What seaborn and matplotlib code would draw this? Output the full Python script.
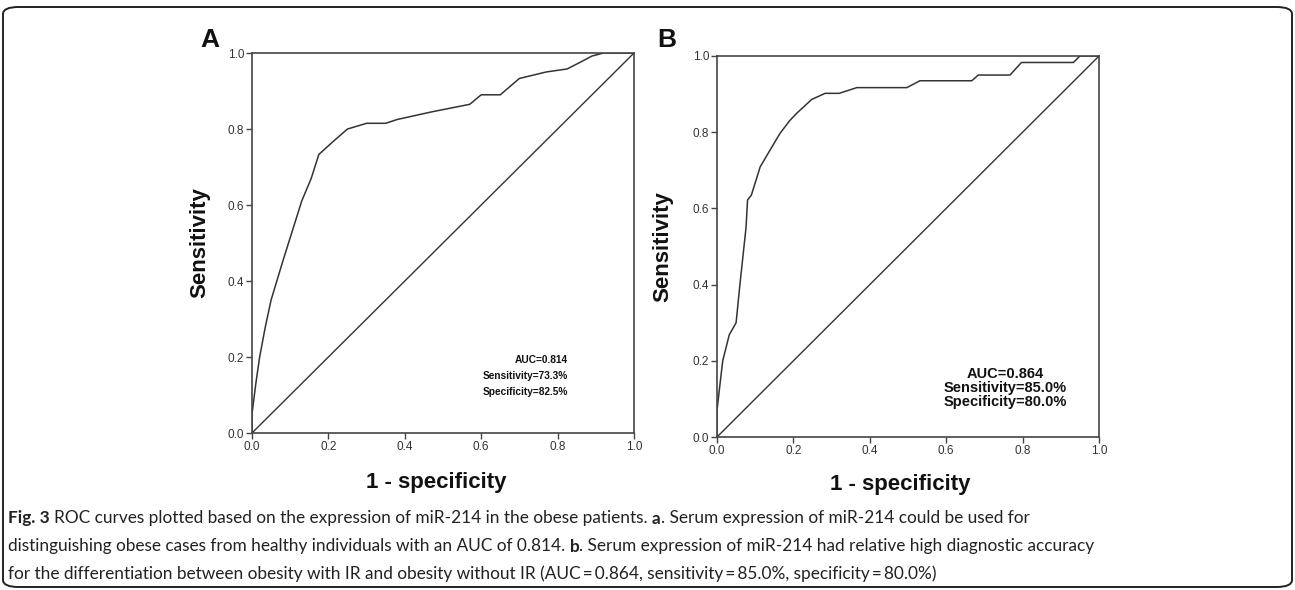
import numpy as np
import pandas as pd
import matplotlib
matplotlib.use("Agg")
import matplotlib.pyplot as plt
import seaborn as sns
from matplotlib.patches import FancyBboxPatch

# ROC curve points (1 - specificity, sensitivity)
fpr_a = [0.0, 0.0, 0.01, 0.02, 0.035, 0.05, 0.08, 0.105, 0.13, 0.155, 0.175, 0.21, 0.25, 0.30,
         0.35, 0.38, 0.47, 0.57, 0.60, 0.65, 0.70, 0.77, 0.825, 0.86, 0.89, 0.92, 1.0]
tpr_a = [0.0, 0.05, 0.13, 0.20, 0.28, 0.35, 0.45, 0.53, 0.61, 0.67, 0.733, 0.765, 0.80, 0.815,
         0.815, 0.825, 0.845, 0.865, 0.89, 0.89, 0.933, 0.95, 0.958, 0.976, 0.992, 1.0, 1.0]

fpr_b = [0.0, 0.0, 0.008, 0.015, 0.032, 0.05, 0.06, 0.076, 0.08, 0.09, 0.113, 0.14, 0.165, 0.19,
         0.209, 0.248, 0.283, 0.32, 0.366, 0.497, 0.531, 0.667, 0.684, 0.767, 0.797, 0.933, 0.95, 1.0]
tpr_b = [0.0, 0.07, 0.14, 0.20, 0.268, 0.30, 0.40, 0.55, 0.622, 0.635, 0.709, 0.755, 0.797, 0.83,
         0.85, 0.886, 0.902, 0.902, 0.917, 0.917, 0.935, 0.935, 0.95, 0.95, 0.983, 0.983, 1.0, 1.0]

ref_line = [0.0, 1.0]
ticks = [0.0, 0.2, 0.4, 0.6, 0.8, 1.0]
tick_labels = ["0.0", "0.2", "0.4", "0.6", "0.8", "1.0"]

stats_a = "AUC=0.814\nSensitivity=73.3%\nSpecificity=82.5%"
stats_b = "AUC=0.864\nSensitivity=85.0%\nSpecificity=80.0%"

caption = [
    [("Fig. 3", "bold"), (" ROC curves plotted based on the expression of miR-214 in the obese patients. ", "normal"),
     ("a", "bold"), (". Serum expression of miR-214 could be used for", "normal")],
    [("distinguishing obese cases from healthy individuals with an AUC of 0.814. ", "normal"), ("b", "bold"),
     (". Serum expression of miR-214 had relative high diagnostic accuracy", "normal")],
    [("for the differentiation between obesity with IR and obesity without IR (AUC\u2009=\u20090.864, "
      "sensitivity\u2009=\u200985.0%, specificity\u2009=\u200980.0%)", "normal")],
]

sns.set_style("ticks")
plt.rcParams["font.family"] = ["Liberation Sans", "DejaVu Sans"]

W, H = 1295, 590
fig = plt.figure(figsize=(W / 100, H / 100), dpi=100)

# outer rounded frame
frame = FancyBboxPatch((3 / W, 3 / H), 1289 / W, 580 / H,
                       boxstyle="round,pad=0,rounding_size=0.012",
                       transform=fig.transFigure, fill=False, edgecolor="#222222", linewidth=1.4)
fig.patches.append(frame)

panels = [
    dict(rect=[252 / W, 1 - 433 / H, 382 / W, 380 / H], fpr=fpr_a, tpr=tpr_a, letter="A",
         letter_x=200, stats=stats_a, sx=0.827, sy=0.095, ha="right", fs=7.3, ls=1.75,
         ylab=-0.11, xlab=(0.482, -0.103)),
    dict(rect=[717 / W, 1 - 437 / H, 382 / W, 381 / H], fpr=fpr_b, tpr=tpr_b, letter="B",
         letter_x=657, stats=stats_b, sx=0.754, sy=0.074, ha="center", fs=10.5, ls=1.0,
         ylab=-0.113, xlab=(0.479, -0.097)),
]

for p in panels:
    ax = fig.add_axes(p["rect"])
    df = pd.DataFrame({"fpr": p["fpr"], "tpr": p["tpr"]})
    sns.lineplot(data=df, x="fpr", y="tpr", ax=ax, sort=False, estimator=None,
                 color="#333333", linewidth=1.1)
    sns.lineplot(x=ref_line, y=ref_line, ax=ax, sort=False, estimator=None,
                 color="#333333", linewidth=1.0)
    ax.set_xlim(0, 1)
    ax.set_ylim(0, 1)
    ax.set_xticks(ticks)
    ax.set_xticklabels(tick_labels)
    ax.set_yticks(ticks)
    ax.set_yticklabels(tick_labels)
    ax.tick_params(direction="out", length=4, width=1, colors="#444444", labelsize=8.5,
                   labelcolor="#333333", pad=1.5)
    for s in ax.spines.values():
        s.set_visible(True)
        s.set_color("#444444")
        s.set_linewidth(1.2)
    ax.set_xlabel("1 - specificity", fontsize=16, fontweight="bold", color="#111111")
    ax.set_ylabel("Sensitivity", fontsize=16, fontweight="bold", color="#111111")
    ax.yaxis.set_label_coords(p["ylab"], 0.5)
    ax.xaxis.set_label_coords(*p["xlab"])
    ax.text(p["sx"], p["sy"], p["stats"], transform=ax.transAxes, ha=p["ha"], va="bottom",
            fontsize=p["fs"], fontweight="bold", color="#111111", linespacing=p["ls"],
            multialignment=p["ha"])
    fig.text(p["letter_x"] / W, 1 - 47 / H, p["letter"], fontsize=19, fontweight="bold",
             ha="left", va="baseline", color="#111111")

# caption, drawn run by run so that the bold parts sit inline
fig.canvas.draw()
renderer = fig.canvas.get_renderer()
cap_font = ["Lato", "DejaVu Sans"]


def width_of(s, weight, size):
    t = fig.text(0, 0, s, fontsize=size, fontweight=weight, family=cap_font)
    w = t.get_window_extent(renderer).width
    t.remove()
    return w


def run_width(runs, size, sp):
    total = 0
    for s, wgt in runs:
        lead = len(s) - len(s.lstrip(" "))
        trail = len(s) - len(s.rstrip(" "))
        total += width_of(s.strip(" "), wgt, size) + (lead + trail) * sp
    return total


base = 12
sp_base = width_of("a a", "normal", base) - width_of("aa", "normal", base)
cap_size = base * 1080 / run_width(caption[1], base, sp_base)
space_w = width_of("a a", "normal", cap_size) - width_of("aa", "normal", cap_size)

line_y = [517, 545, 572]
for runs, yy in zip(caption, line_y):
    x = 8
    for s, wgt in runs:
        lead = len(s) - len(s.lstrip(" "))
        trail = len(s) - len(s.rstrip(" "))
        x += lead * space_w
        core = s.strip(" ")
        fig.text(x / W, 1 - yy / H, core, fontsize=cap_size, fontweight=wgt, family=cap_font,
                 ha="left", va="center_baseline", color="#222222")
        x += width_of(core, wgt, cap_size) + trail * space_w

fig.savefig("out.png", dpi=100)
